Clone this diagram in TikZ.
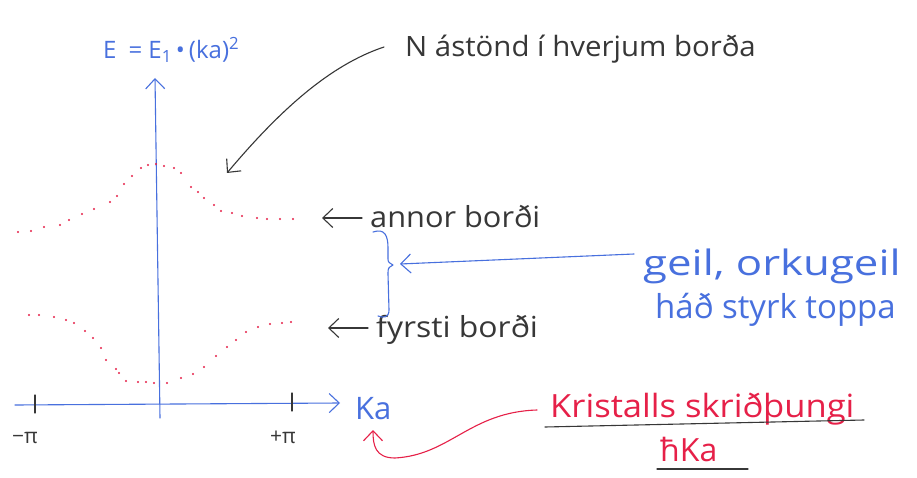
\documentclass[tikz,border=0pt]{standalone}
\usepackage{fontspec}
\usepackage{graphicx}
\setmainfont{Open Sans}
\usetikzlibrary{arrows.meta}
\definecolor{penblue}{RGB}{72,112,222}
\definecolor{penred}{RGB}{230,32,72}
\definecolor{penblack}{RGB}{55,55,55}
\tikzset{
  pen/.style={line width=1.1pt, line cap=round, line join=round},
  vtip/.style={-{Straight Barb[length=10pt,width=19pt,line width=1.1pt]}},
  hand/.style={inner sep=0pt, anchor=base west},
  banddot/.style={fill=penred},
}
\newcommand{\wide}[2]{\scalebox{#1}[1]{#2}}
\begin{document}
\begin{tikzpicture}[x=1pt,y=-1pt]
\useasboundingbox[fill=white] (0,0) rectangle (917,478);

% axes
\coordinate (xstart) at (15,405);
\coordinate (xend) at (340,403);
\coordinate (ystart) at (160,418);
\coordinate (yend) at (155,78);
\draw[pen,penblue,vtip] (xstart) -- (xend);
\draw[pen,penblue,vtip] (ystart) -- (yend);

% ticks at the zone edges
\draw[pen,penblack] (35,395) -- (35,413);
\draw[pen,penblack] (292,393) -- (292,411);
\node[hand,penblack,font=\fontsize{21}{21}\selectfont] (mpi) at (12,443) {−π};
\node[hand,penblack,font=\fontsize{21}{21}\selectfont] (ppi) at (270,443) {+π};

% axis labels
\node[hand,penblue,font=\fontsize{24}{24}\selectfont] (elabel) at (103,59)
  {E\hspace{12pt}= E\textsubscript{1}\,•\,(ka)\textsuperscript{2}};
\node[hand,penblue,font=\fontsize{31}{31}\selectfont] (ka) at (355,419) {Ka};

% band curves, dotted
\foreach \p in {(18,232),(31,231),(44,227),(60,225),(69,220),(82,214),(94,209),
  (110,202),(117,196),(124,184),(132,176),(141,168),(148,165),(156,164),(164,166),
  (174,168),(181,173),(191,187),(198,192),(204,198),(214,205),(221,211),(232,213),
  (242,216),(257,218),(267,219),(280,219),(293,219)}
  \fill[banddot] \p circle (1.2pt);
\foreach \p in {(29,315),(39,315),(54,317),(66,320),(74,323),(85,331),(93,338),
  (101,348),(106,360),(116,369),(119,373),(126,381),(138,382),(146,382),(154,383),
  (167,383),(181,378),(193,374),(204,367),(216,356),(227,347),(236,340),(246,332),
  (258,327),(270,324),(282,323),(291,322)}
  \fill[banddot] \p circle (1.2pt);

% states per band
\node[hand,penblack,font=\fontsize{28}{28}\selectfont] (nstates) at (405,57)
  {\wide{1.05}{N ástönd í hverjum borða}};
\coordinate (nstart) at (384,47);
\coordinate (bandtop) at (227,173);
\draw[pen,penblack,vtip] (nstart) .. controls (330,65) and (280,110) .. (bandtop);

% band names
\node[hand,penblack,font=\fontsize{29}{29}\selectfont] (band2) at (370,227) {\wide{1.06}{annor borði}};
\node[hand,penblack,font=\fontsize{29}{29}\selectfont] (band1) at (376,337) {\wide{1.1}{fyrsti borði}};
\coordinate (b2tail) at (362,218);
\coordinate (b2tip) at (322,218);
\coordinate (b1tail) at (368,328);
\coordinate (b1tip) at (328,328);
\draw[pen,penblack,vtip] (b2tail) -- (b2tip);
\draw[pen,penblack,vtip] (b1tail) -- (b1tip);

% gap brace
\coordinate (gap) at (393,265);
\draw[pen,penblue] (373,232) .. controls (385,228) and (388,236) .. (388,248)
  -- (388,258) .. controls (388,262) .. (gap)
  .. controls (388,268) .. (388,274) -- (389,310)
  .. controls (389,318) and (383,318) .. (378,316);

% gap note
\node[hand,penblue,font=\fontsize{35}{35}\selectfont] (gapnote) at (643,275) {\wide{1.25}{geil, orkugeil}};
\node[hand,penblue,font=\fontsize{33}{33}\selectfont] (gapnote2) at (655,318) {háð styrk toppa};
\coordinate (gapstart) at (634,254);
\coordinate (gapend) at (400,264);
\draw[pen,penblue,vtip] (gapstart) -- (gapend);

% crystal momentum
\node[hand,penred,font=\fontsize{32}{32}\selectfont] (kris) at (550,417) {\wide{1.08}{Kristalls skriðþungi}};
\node[hand,penred,font=\fontsize{32}{32}\selectfont] (hka) at (660,461) {ħKa};
\draw[pen,penblack] (545,427) -- (864,420);
\draw[pen,penblack] (657,469) -- (748,469);
\coordinate (krstart) at (537,410);
\coordinate (kaunder) at (373,430);
\draw[pen,penred,vtip] (krstart) .. controls (470,412) and (450,455) .. (395,458)
  .. controls (375,458) and (373,445) .. (kaunder);
\end{tikzpicture}
\end{document}
